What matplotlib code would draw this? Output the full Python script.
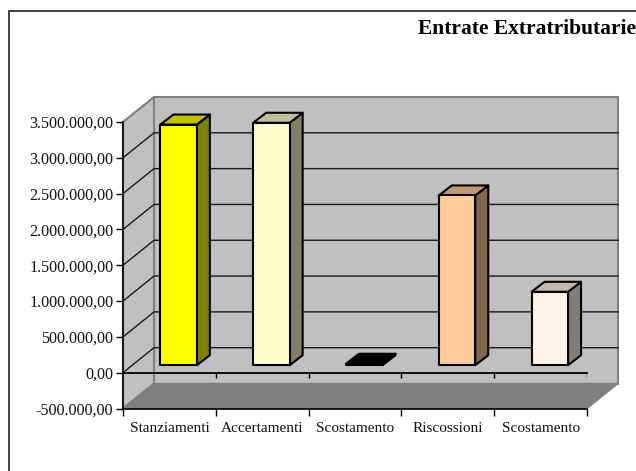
import matplotlib
matplotlib.use("Agg")
import matplotlib.pyplot as plt
from matplotlib.patches import Polygon, Rectangle

# Chart values
categories = ["Stanziamenti", "Accertamenti", "Scostamento", "Riscossioni", "Scostamento"]
values = [3360000, 3385000, 20000, 2370000, 1025000]
y_ticks = [-500000, 0, 500000, 1000000, 1500000, 2000000, 2500000, 3000000, 3500000]
y_labels = ["-500.000,00", "0,00", "500.000,00", "1.000.000,00", "1.500.000,00",
            "2.000.000,00", "2.500.000,00", "3.000.000,00", "3.500.000,00"]
front_colors = ["#FFFF00", "#FFFFCC", "#000000", "#FFCC99", "#FFF8F0"]
side_colors = ["#808000", "#808066", "#000000", "#80664C", "#7F7A74"]
top_colors = ["#C0C000", "#BFBF99", "#000000", "#BF9973", "#BFB7AE"]
hatch_colors = [None, None, None, None, ("#8F8980", "#C9C1B8", "#FFE6CC")]

plt.rcParams["font.family"] = "Liberation Serif"
plt.rcParams["hatch.linewidth"] = 0.5

W, H = 636, 471
fig = plt.figure(figsize=(W / 100, H / 100), dpi=100)

# front plane of the 3d box
left, right, top, bottom = 123, 587, 122, 408.5
ax = fig.add_axes([left / W, 1 - bottom / H, (right - left) / W, (bottom - top) / H])
ax.set_xlim(0, 5)
ax.set_ylim(-500000, 3500000)
ax.patch.set_visible(False)

# depth of the box, in data units
dx = 31 / 92.8
dy = 349000
ymin, ymax = -500000, 3500000

ax.add_patch(Polygon([(dx, ymin + dy), (5 + dx, ymin + dy), (5 + dx, ymax + dy), (dx, ymax + dy)],
                     fc="#C0C0C0", ec="#808080", lw=1.5, clip_on=False, zorder=1))
ax.add_patch(Polygon([(0, ymin), (dx, ymin + dy), (dx, ymax + dy), (0, ymax)],
                     fc="#C0C0C0", ec="#808080", lw=1.5, clip_on=False, zorder=1))
ax.add_patch(Polygon([(0, ymin), (5, ymin), (5 + dx, ymin + dy), (dx, ymin + dy)],
                     fc="#808080", ec="#808080", lw=1, clip_on=False, zorder=1))

# gridlines on side and back wall
for v in y_ticks[1:-1]:
    ax.plot([0, dx, 5 + dx], [v, v + dy, v + dy], color="#1a1a1a", lw=1, clip_on=False, zorder=2)
ax.plot([0, 5], [0, 0], color="black", lw=1.3, clip_on=False, zorder=3)
ax.vlines(range(1, 6), -70000, 0, color="black", lw=1, zorder=3)

# bars
bar_w = 36.5 / 92.8
off_x, off_y = 9.2 / 92.8, 104000
depth_x, depth_y = 13 / 92.8, 140000
for i, v in enumerate(values):
    x0 = i + 0.5 + off_x - bar_w / 2
    x1 = x0 + bar_w
    y0 = off_y
    y1 = off_y + v
    z = 5 + i
    faces = [
        [(x1, y0), (x1 + depth_x, y0 + depth_y), (x1 + depth_x, y1 + depth_y), (x1, y1)],
        [(x0, y1), (x1, y1), (x1 + depth_x, y1 + depth_y), (x0 + depth_x, y1 + depth_y)],
        [(x0, y0), (x1, y0), (x1, y1), (x0, y1)],
    ]
    cols = [side_colors[i], top_colors[i], front_colors[i]]
    for k, pts in enumerate(faces):
        ax.add_patch(Polygon(pts, fc=cols[k], ec="none", clip_on=False, zorder=z))
        if hatch_colors[i]:
            ax.add_patch(Polygon(pts, fc="none", ec=hatch_colors[i][k], lw=0, hatch="////////",
                                 clip_on=False, zorder=z))
        ax.add_patch(Polygon(pts, fc="none", ec="black", lw=1.5, clip_on=False, zorder=z, joinstyle="round"))

# axes and ticks
for s in ["top", "right"]:
    ax.spines[s].set_visible(False)
ax.spines["left"].set_linewidth(1.2)
ax.spines["bottom"].set_linewidth(1.2)
ax.spines["left"].set_zorder(4)
ax.spines["bottom"].set_zorder(4)
ax.set_yticks(y_ticks)
ax.set_yticklabels(y_labels, fontsize=11.6, color="#111111")
ax.tick_params(axis="y", length=5, width=1, pad=2)
ax.set_xticks(range(6))
ax.set_xticklabels([])
ax.tick_params(axis="x", length=5, width=1)
ax.set_xticks([i + 0.5 for i in range(5)], minor=True)
ax.set_xticklabels(categories, minor=True, fontsize=11, color="#111111")
ax.tick_params(axis="x", which="minor", length=0, pad=10)

# chart frame, runs off the canvas on the right and bottom
fig.add_artist(Rectangle((8.5 / W, -0.05), 1.0, 1.05 - 11 / H, transform=fig.transFigure,
                         fc="none", ec="#222222", lw=1.2))
fig.text(636 / W, 1 - 29 / H, "Entrate Extratributarie", ha="right", va="center",
         fontsize=15.45, fontweight="bold", color="black")

fig.savefig("out.png", dpi=100, facecolor="white")
